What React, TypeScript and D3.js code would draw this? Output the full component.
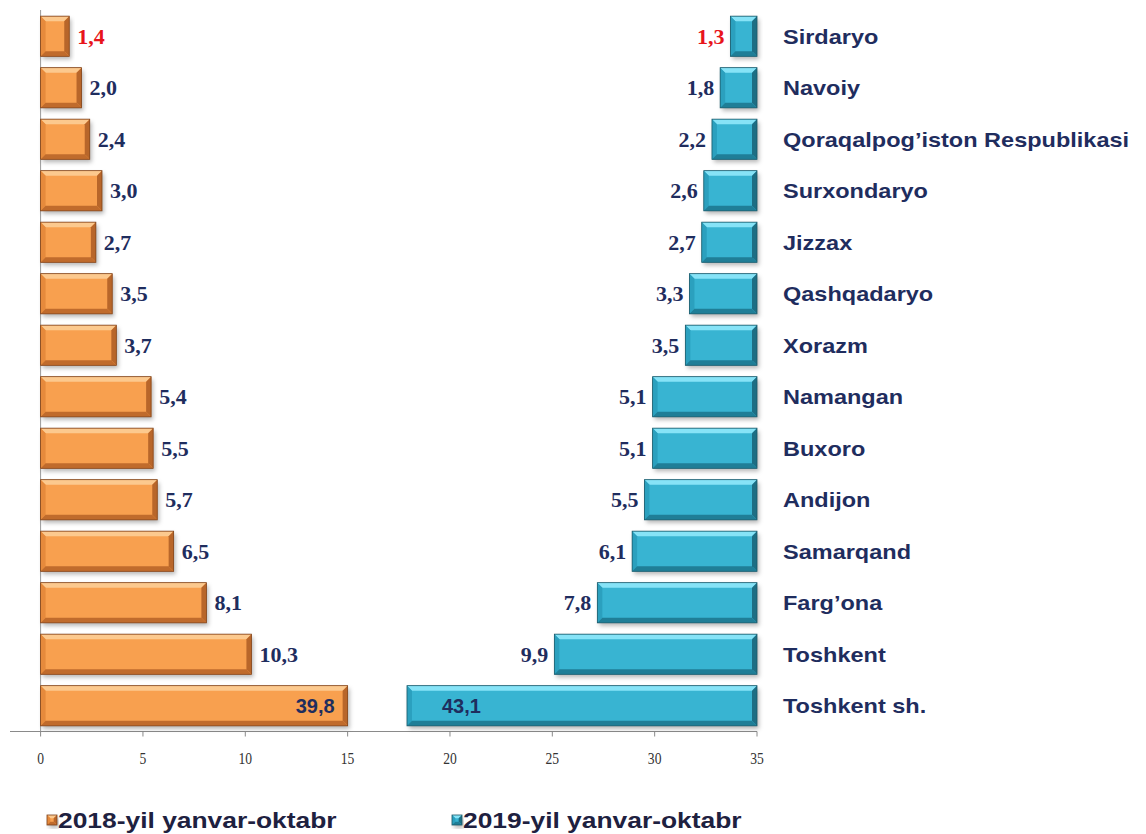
import React from "react";
import * as d3 from "d3";

const categories = [
  "Sirdaryo",
  "Navoiy",
  "Qoraqalpog’iston Respublikasi",
  "Surxondaryo",
  "Jizzax",
  "Qashqadaryo",
  "Xorazm",
  "Namangan",
  "Buxoro",
  "Andijon",
  "Samarqand",
  "Farg’ona",
  "Toshkent",
  "Toshkent sh.",
];
const values2018 = [1.4, 2.0, 2.4, 3.0, 2.7, 3.5, 3.7, 5.4, 5.5, 5.7, 6.5, 8.1, 10.3, 39.8];
const values2019 = [1.3, 1.8, 2.2, 2.6, 2.7, 3.3, 3.5, 5.1, 5.1, 5.5, 6.1, 7.8, 9.9, 43.1];
const axisTicks = [0, 5, 10, 15, 20, 25, 30, 35];
const seriesNames = ["2018-yil yanvar-oktabr", "2019-yil yanvar-oktabr"];
// broken-axis caps for displaying very long bars
const cap2018 = 15;
const cap2019 = 17.1;

const W = 1146;
const H = 834;

const fmt = (v: number) => d3.format(".1f")(v).replace(".", ",");

const ORANGE = {
  body: "#F8A04F",
  top: "#FCC98E",
  left: "#E68A3C",
  right: "#B8662A",
  bottom: "#C06B2C",
  stroke: "#7E4119",
};
const BLUE = {
  body: "#38B4D2",
  top: "#86E3F7",
  left: "#2BA0BE",
  right: "#1D6E84",
  bottom: "#1F7E97",
  stroke: "#1A5868",
};

function BevelBar({ x0, x1, y0, h, c }: { x0: number; x1: number; y0: number; h: number; c: typeof ORANGE }) {
  const b = Math.min(5, (x1 - x0) / 3, h / 3);
  const y1 = y0 + h;
  const pts = (a: number[][]) => a.map((p) => p.join(",")).join(" ");
  return (
    <g>
      <rect x={x0} y={y0} width={x1 - x0} height={h} fill={c.body} filter="url(#shadow)" />
      <polygon points={pts([[x0, y0], [x1, y0], [x1 - b, y0 + b], [x0 + b, y0 + b]])} fill={c.top} />
      <polygon points={pts([[x0, y0], [x0 + b, y0 + b], [x0 + b, y1 - b], [x0, y1]])} fill={c.left} />
      <polygon points={pts([[x1, y0], [x1, y1], [x1 - b, y1 - b], [x1 - b, y0 + b]])} fill={c.right} />
      <polygon points={pts([[x0, y1], [x0 + b, y1 - b], [x1 - b, y1 - b], [x1, y1]])} fill={c.bottom} />
      <rect x={x0} y={y0} width={x1 - x0} height={h} fill="none" stroke={c.stroke} strokeWidth={0.8} />
    </g>
  );
}

export default function App() {
  const x = d3.scaleLinear().domain([0, 35]).range([40.6, 757]);
  const y = d3
    .scaleBand<string>()
    .domain(categories)
    .range([10.5, 731.5])
    .paddingInner(0.22)
    .paddingOuter(0.11);
  const bw = y.bandwidth();
  const axisY = 731.5;
  const navy = "#1F2D5E";
  const red = "#E8141B";
  const serif = "'Liberation Serif', 'Times New Roman', serif";
  const sans = "'Liberation Sans', Arial, sans-serif";
  const stretch = (x0: number, s: number) => `translate(${x0},0) scale(${s},1) translate(${-x0},0)`;

  return (
    <svg
      width={W}
      height={H}
      style={{ position: "absolute", left: 0, top: 0, background: "#fff" }}
    >
      <defs>
        <filter id="shadow" x="-10%" y="-20%" width="130%" height="160%">
          <feDropShadow dx="2" dy="3" stdDeviation="2" floodColor="#000" floodOpacity="0.28" />
        </filter>
      </defs>
      <rect width={W} height={H} fill="#fff" />

      {/* axes */}
      <line x1={x(0)} x2={x(0)} y1={10} y2={axisY} stroke="#9a9a9a" strokeWidth={1} />
      <line x1={10} x2={x(35)} y1={axisY} y2={axisY} stroke="#8a8a8a" strokeWidth={1.2} />
      {axisTicks.map((t) => (
        <g key={t}>
          <line x1={x(t)} x2={x(t)} y1={axisY} y2={axisY + 5} stroke="#8a8a8a" strokeWidth={1} />
          <text
            x={x(t)}
            y={764}
            textAnchor="middle"
            fontFamily={serif}
            fontSize={16}
            fill="#333"
            transform={stretch(x(t), 0.85)}
          >
            {t}
          </text>
        </g>
      ))}

      {/* 2018 bars */}
      {categories.map((cat, i) => {
        const v = values2018[i];
        const shown = Math.min(v, cap2018);
        const y0 = y(cat)!;
        const xe = x(shown);
        const capped = v > cap2018;
        return (
          <g key={"a" + cat}>
            <BevelBar x0={x(0)} x1={xe} y0={y0} h={bw} c={ORANGE} />
            {capped ? (
              <text
                x={xe - 13}
                y={y0 + bw / 2}
                dy="0.36em"
                textAnchor="end"
                fontFamily={sans}
                fontWeight="bold"
                fontSize={20}
                fill={navy}
              >
                {fmt(v)}
              </text>
            ) : (
              <text
                x={xe + 8}
                y={y0 + bw / 2}
                dy="0.34em"
                textAnchor="start"
                fontFamily={serif}
                fontWeight="bold"
                fontSize={22}
                fill={i === 0 ? red : navy}
              >
                {fmt(v)}
              </text>
            )}
          </g>
        );
      })}

      {/* 2019 bars */}
      {categories.map((cat, i) => {
        const v = values2019[i];
        const shown = Math.min(v, cap2019);
        const y0 = y(cat)!;
        const xs = x(35 - shown);
        const capped = v > cap2019;
        return (
          <g key={"b" + cat}>
            <BevelBar x0={xs} x1={x(35)} y0={y0} h={bw} c={BLUE} />
            {capped ? (
              <text
                x={xs + 35}
                y={y0 + bw / 2}
                dy="0.36em"
                textAnchor="start"
                fontFamily={sans}
                fontWeight="bold"
                fontSize={20}
                fill={navy}
              >
                {fmt(v)}
              </text>
            ) : (
              <text
                x={xs - 6}
                y={y0 + bw / 2}
                dy="0.34em"
                textAnchor="end"
                fontFamily={serif}
                fontWeight="bold"
                fontSize={22}
                fill={i === 0 ? red : navy}
              >
                {fmt(v)}
              </text>
            )}
          </g>
        );
      })}

      {/* category labels */}
      {categories.map((cat) => (
        <text
          key={"c" + cat}
          x={783}
          y={y(cat)! + bw / 2}
          dy="0.36em"
          fontFamily={sans}
          fontWeight="bold"
          fontSize={21}
          fill={navy}
          transform={stretch(783, 1.12)}
        >
          {cat}
        </text>
      ))}

      {/* legend */}
      {seriesNames.map((name, i) => {
        const lx = i === 0 ? 47 : 452;
        const c = i === 0 ? ORANGE : BLUE;
        return (
          <g key={name}>
            <BevelBar x0={lx} x1={lx + 10} y0={815} h={10} c={c} />
            <text
              x={lx + 11}
              y={828}
              fontFamily={sans}
              fontWeight="bold"
              fontSize={22}
              fill="#1E2140"
              transform={stretch(lx + 11, 1.2)}
            >
              {name}
            </text>
          </g>
        );
      })}
    </svg>
  );
}
